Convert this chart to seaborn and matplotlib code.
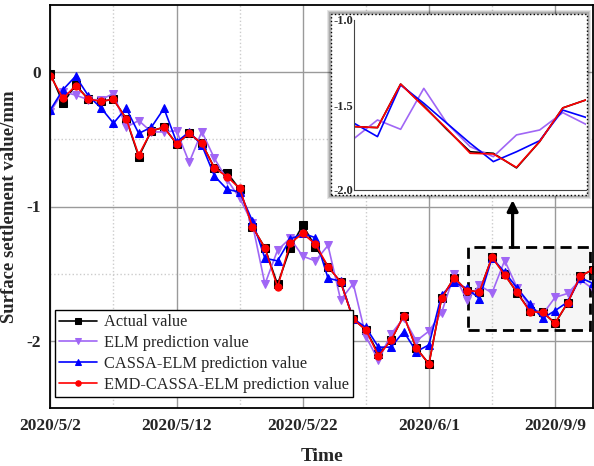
import numpy as np
import pandas as pd
import matplotlib
matplotlib.use("Agg")
import matplotlib.pyplot as plt
import seaborn as sns
from matplotlib.patches import Rectangle
from matplotlib.ticker import FixedLocator

# ---------------- data ----------------
tick_labels = ["2020/5/2", "2020/5/12", "2020/5/22", "2020/6/1", "2020/9/9"]
tick_pos = [0, 10, 20, 30, 40]

actual = [-0.01, -0.23, -0.095, -0.20, -0.216, -0.203, -0.345, -0.63, -0.437, -0.41,
          -0.533, -0.456, -0.53, -0.713, -0.748, -0.872, -1.15, -1.308, -1.58, -1.31,
          -1.138, -1.30, -1.447, -1.562, -1.839, -1.918, -2.097, -1.995, -1.812, -2.055,
          -2.172, -1.683, -1.53, -1.627, -1.633, -1.377, -1.505, -1.645, -1.775, -1.784,
          -1.87, -1.715, -1.517, -1.47]
elm = [-0.295, -0.145, -0.171, -0.205, -0.205, -0.159, -0.41, -0.36, -0.445, -0.445,
       -0.436, -0.672, -0.442, -0.642, -0.80, -0.938, -1.125, -1.578, -1.325, -1.237,
       -1.37, -1.405, -1.29, -1.695, -1.574, -1.968, -2.146, -1.948, -1.831, -2.0,
       -1.928, -1.79, -1.505, -1.696, -1.588, -1.643, -1.402, -1.608, -1.745, -1.804,
       -1.676, -1.647, -1.545, -1.614]
cassa = [-0.28, -0.13, -0.03, -0.175, -0.265, -0.38, -0.268, -0.456, -0.41, -0.27,
         -0.52, -0.445, -0.543, -0.773, -0.872, -0.893, -1.105, -1.385, -1.405, -1.244,
         -1.20, -1.232, -1.534, -1.556, -1.835, -1.90, -2.047, -2.047, -1.931, -2.08,
         -2.03, -1.658, -1.565, -1.608, -1.686, -1.382, -1.49, -1.608, -1.725, -1.833,
         -1.775, -1.71, -1.53, -1.573]
emd = [-0.027, -0.196, -0.10, -0.20, -0.216, -0.203, -0.345, -0.617, -0.437, -0.41,
       -0.533, -0.456, -0.53, -0.713, -0.778, -0.865, -1.15, -1.308, -1.60, -1.274,
       -1.20, -1.28, -1.447, -1.562, -1.839, -1.918, -2.112, -1.995, -1.812, -2.055,
       -2.172, -1.683, -1.53, -1.627, -1.633, -1.377, -1.51, -1.64, -1.784, -1.788,
       -1.867, -1.715, -1.517, -1.47]
idx = list(range(len(actual)))

series = [
    ("Actual value", actual, "black", "s", 6),
    ("ELM prediction value", elm, "#a066f5", "v", 6.3),
    ("CASSA-ELM prediction value", cassa, "#0000ff", "^", 5.6),
    ("EMD-CASSA-ELM prediction value", emd, "#ff0000", "o", 5.2),
]

# ---------------- style ----------------
sns.set_style("white")
plt.rcParams["font.family"] = ["Liberation Serif", "DejaVu Serif"]

fig = plt.figure(figsize=(5.94, 4.66), dpi=100)
ax = fig.add_axes([50.4 / 594, 1 - 408 / 466, (593 - 50.4) / 594, (408 - 5) / 466])
ax.set_zorder(0)

for name, vals, col, mk, ms in series:
    sns.lineplot(x=idx, y=vals, ax=ax, color=col, marker=mk, markersize=ms,
                 markeredgecolor=col, linewidth=1.2, label=name, sort=False)

ax.set_xlim(0, 43)
ax.set_ylim(-2.5, 0.5)
ax.xaxis.set_major_locator(FixedLocator(tick_pos))
ax.set_xticklabels(tick_labels)
ax.xaxis.set_minor_locator(FixedLocator([5, 15, 25, 35]))
ax.yaxis.set_major_locator(FixedLocator([0, -1, -2]))
ax.set_yticklabels(["0", "-1", "-2"])
ax.yaxis.set_minor_locator(FixedLocator([-0.5, -1.5]))
ax.grid(True, which="major", color="#9a9a9a", linewidth=1.0, linestyle="-")
ax.grid(True, which="minor", color="#cccccc", linewidth=1.0, linestyle=":")
ax.set_axisbelow(True)
ax.tick_params(axis="both", which="major", direction="in", length=4, width=1,
               labelsize=12.5, pad=7)
ax.tick_params(axis="both", which="minor", length=0)
for lab in ax.get_xticklabels() + ax.get_yticklabels():
    lab.set_fontweight("bold")
for sp in ax.spines.values():
    sp.set_color("black")
    sp.set_linewidth(1.3)
ax.set_xlabel("Time", fontsize=14, fontweight="bold", labelpad=10)
ax.set_ylabel("Surface settlement value/mm", fontsize=13.5, fontweight="bold", labelpad=6)

leg = ax.legend(loc="lower left", bbox_to_anchor=(0.008, 0.027), borderaxespad=0,
                fontsize=11.8, frameon=True, fancybox=False, edgecolor="black",
                framealpha=1, markerscale=0.75, handlelength=2.3, borderpad=0.25,
                labelspacing=0.3, handletextpad=0.45)
leg.get_frame().set_linewidth(1.0)

# dashed zoom box
rect = Rectangle((33.1, -1.918), 42.75 - 33.1, 1.918 - 1.305, facecolor=(0.5, 0.5, 0.5, 0.07),
                 edgecolor="black", linestyle=(0, (4, 2.2)), linewidth=2.0, zorder=1)
ax.add_patch(rect)
ax.annotate("", xy=(36.63, -0.952), xytext=(36.63, -1.305),
            arrowprops=dict(arrowstyle="-|>", color="black", lw=2.3, mutation_scale=16,
                            shrinkA=0, shrinkB=0), zorder=5)

# inset frame with shadow
fx0, fy0, fw, fh = 330.7 / 594, 1 - 195 / 466, 256 / 594, 181 / 466
for k, a in [(4, 0.10), (3, 0.12), (2, 0.15)]:
    fig.patches.append(Rectangle((fx0 - k / 594, fy0 - k / 466), fw + 2 * k / 594, fh + 2 * k / 466,
                                 transform=fig.transFigure, facecolor=(0, 0, 0, a),
                                 edgecolor="none", zorder=1))
fig.patches.append(Rectangle((fx0, fy0), fw, fh, transform=fig.transFigure, facecolor="white",
                             edgecolor="black", linestyle=":", linewidth=1.0, zorder=1.5))

axin = fig.add_axes([354.3 / 594, 1 - 190 / 466, (586 - 354.3) / 594, 170 / 466])
axin.set_zorder(2)
axin.patch.set_alpha(0)
for name, vals, col, mk, ms in series:
    sns.lineplot(x=idx[33:], y=vals[33:], ax=axin, color=col, linewidth=1.2, legend=False,
                 sort=False)
axin.set_xlim(33, 43)
axin.set_ylim(-2.0, -1.0)
axin.set_xticks([39])
axin.set_xticklabels([])
axin.set_yticks([-1.0, -1.5, -2.0])
axin.set_yticklabels(["-1.0", "-1.5", "-2.0"])
axin.tick_params(direction="in", length=3, width=0.8, labelsize=9, pad=1)
for lab in axin.get_yticklabels():
    lab.set_fontweight("bold")
axin.spines["top"].set_visible(False)
axin.spines["right"].set_visible(False)
axin.spines["left"].set_color("#444444")
axin.spines["bottom"].set_color("#444444")
axin.set_xlabel("")
axin.set_ylabel("")
axin.grid(False)

fig.savefig("out.png", dpi=100)
